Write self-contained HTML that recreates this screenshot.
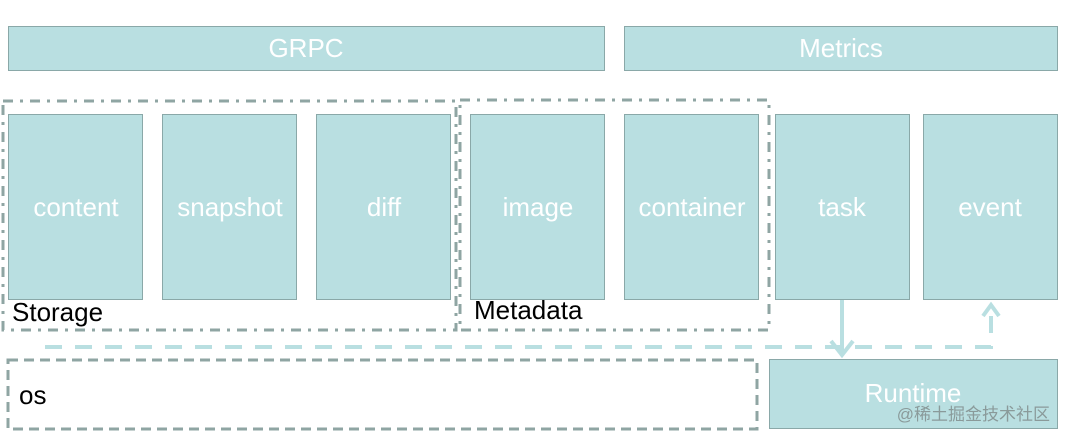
<!DOCTYPE html>
<html><head><meta charset="utf-8"><style>
html,body{margin:0;padding:0;background:#fff;width:1065px;height:439px;overflow:hidden}
svg text{font-family:"Liberation Sans",sans-serif}
</style></head><body>
<svg width="1065" height="439" viewBox="0 0 1065 439" xmlns="http://www.w3.org/2000/svg">
<g fill="#b9dfe1" stroke="#8aa8a8" stroke-width="1">
<rect x="8.5" y="26.5" width="596" height="44"/>
<rect x="624.5" y="26.5" width="433" height="44"/>
<rect x="8.5" y="114.5" width="134" height="185"/>
<rect x="162.5" y="114.5" width="134" height="185"/>
<rect x="316.5" y="114.5" width="134" height="185"/>
<rect x="470.5" y="114.5" width="134" height="185"/>
<rect x="624.5" y="114.5" width="134" height="185"/>
<rect x="775.5" y="114.5" width="134" height="185"/>
<rect x="923.5" y="114.5" width="134" height="185"/>
<rect x="769.5" y="359.5" width="288" height="69"/>
</g>
<g fill="#fff" font-size="26" text-anchor="middle">
<text x="306" y="57">GRPC</text>
<text x="841" y="57">Metrics</text>
<text x="76" y="216">content</text>
<text x="230" y="216">snapshot</text>
<text x="384" y="216">diff</text>
<text x="538" y="216">image</text>
<text x="692" y="216">container</text>
<text x="842" y="216">task</text>
<text x="990" y="216">event</text>
<text x="913" y="402">Runtime</text>
</g>
<text x="1050" y="420" font-size="17" fill="#8a9a9a" text-anchor="end" font-family="'Liberation Sans','Noto Sans CJK SC',sans-serif">@稀土掘金技术社区</text>
<g fill="none" stroke="#8fa5a3" stroke-width="3">
<rect x="3" y="101" width="453" height="229" stroke-dasharray="10,7,3,7"/>
<rect x="460" y="100" width="309" height="230" stroke-dasharray="10,7,3,7"/>
<rect x="8" y="360" width="749" height="69" stroke-dasharray="10,6"/>
</g>
<g fill="none" stroke="#b9dfe1" stroke-width="4">
<path d="M45 347 H991 V306" stroke-dasharray="17,13"/>
<path d="M842 300 V355"/>
<path d="M831 341 L842 355 L853 341"/>
<path d="M983 316 L991 305 L999 316"/>
</g>
<g font-size="26" fill="#000">
<text x="12" y="321">Storage</text>
<text x="474" y="319">Metadata</text>
<text x="19" y="404">os</text>
</g>
</svg>
</body></html>
